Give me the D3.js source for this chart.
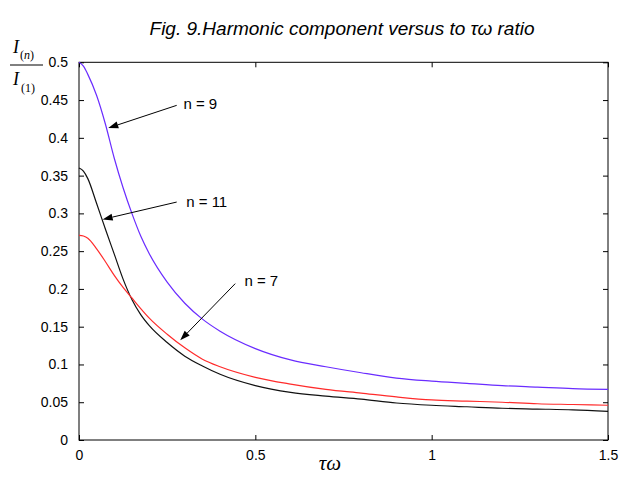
<!DOCTYPE html>
<html><head><meta charset="utf-8">
<script src="https://cdn.jsdelivr.net/npm/d3@7"></script>
<style>body{margin:0;background:#fff}svg{display:block}</style>
</head><body>
<svg id="c" width="619" height="477"></svg>
<script>
const xs    = [0,0.0125,0.025,0.05,0.075,0.1,0.125,0.15,0.175,0.2,0.25,0.3,0.35,0.4,0.5,0.6,0.7,0.8,0.9,1.0,1.1,1.2,1.3,1.4,1.5];
const n9    = [0.500,0.495,0.484,0.456,0.418,0.373,0.334,0.300,0.270,0.246,0.209,0.181,0.160,0.144,0.121,0.106,0.097,0.089,0.082,0.078,0.075,0.072,0.070,0.068,0.067];
const n7    = [0.271,0.270,0.267,0.253,0.236,0.218,0.202,0.188,0.174,0.161,0.140,0.122,0.107,0.097,0.083,0.074,0.067,0.062,0.057,0.053,0.0515,0.050,0.048,0.047,0.046];
const n11   = [0.360,0.356,0.346,0.313,0.279,0.246,0.213,0.186,0.166,0.151,0.129,0.111,0.098,0.087,0.072,0.063,0.058,0.054,0.049,0.046,0.044,0.042,0.041,0.040,0.038];
const xTicks = [0,0.5,1,1.5];
const yTicks = [0,0.05,0.1,0.15,0.2,0.25,0.3,0.35,0.4,0.45,0.5];
// annotations: [label, arrow head x, head y, tail x, tail y, label x, label y] in data units
const notes = [
  ["n = 9", 0.083, 0.413, 0.277, 0.443, 0.296, 0.438],
  ["n = 11",0.067, 0.292, 0.277, 0.315, 0.304, 0.309],
  ["n = 7", 0.287, 0.132, 0.443, 0.207, 0.469, 0.204]
];

const svg = d3.select("#c");
const L=79,R=608,T=62.3,B=440;
const x = d3.scaleLinear().domain([0,1.5]).range([L,R]);
const y = d3.scaleLinear().domain([0,0.5]).range([B,T]);

// title
svg.append("text").attr("x",342).attr("y",35).attr("text-anchor","middle")
  .attr("font-family","Liberation Sans, Arial, sans-serif").attr("font-style","italic")
  .attr("font-size",19).text("Fig. 9.Harmonic component versus to τω ratio");

const tickFont = "Liberation Sans, Arial, sans-serif";
// axes
const gx = svg.append("g").attr("transform",`translate(0,${B})`)
  .call(d3.axisBottom(x).tickValues(xTicks).tickFormat(d3.format("")).tickSizeInner(-5).tickSizeOuter(0).tickPadding(10));
const gxt = svg.append("g").attr("transform",`translate(0,${T})`)
  .call(d3.axisTop(x).tickValues(xTicks).tickFormat("").tickSizeInner(-5).tickSizeOuter(0));
const gy = svg.append("g").attr("transform",`translate(${L},0)`)
  .call(d3.axisLeft(y).tickValues(yTicks).tickFormat(d3.format("")).tickSizeInner(-5).tickSizeOuter(0).tickPadding(11));
const gyr = svg.append("g").attr("transform",`translate(${R},0)`)
  .call(d3.axisRight(y).tickValues(yTicks).tickFormat("").tickSizeInner(-5).tickSizeOuter(0));
[gx,gxt,gy,gyr].forEach(g=>{
  g.select(".domain").remove();
  g.selectAll("line").attr("stroke","#000");
  g.selectAll("text").attr("font-family",tickFont).attr("font-size",14).attr("fill","#000");
});
svg.append("rect").attr("x",L).attr("y",T).attr("width",R-L).attr("height",B-T)
  .attr("fill","none").attr("stroke","#000").attr("stroke-width",1);

// lines
const line = d3.line().x((d,i)=>x(xs[i])).y(d=>y(d)).curve(d3.curveMonotoneX);
[[n9,"#6a2cff"],[n11,"#111"],[n7,"#ff2b2b"]].forEach(([s,c])=>{
  svg.append("path").attr("d",line(s)).attr("fill","none").attr("stroke",c).attr("stroke-width",1.2);
});

// annotations
notes.forEach(([lab,hx,hy,tx,ty,lx,ly])=>{
  const X1=x(tx),Y1=y(ty),X2=x(hx),Y2=y(hy);
  const ang=Math.atan2(Y2-Y1,X2-X1), len=10, w=3.5;
  const bx=X2-len*Math.cos(ang), by=Y2-len*Math.sin(ang);
  svg.append("line").attr("x1",X1).attr("y1",Y1).attr("x2",bx).attr("y2",by).attr("stroke","#000").attr("stroke-width",1);
  const p=[[X2,Y2],[bx+w*Math.sin(ang),by-w*Math.cos(ang)],[bx-w*Math.sin(ang),by+w*Math.cos(ang)]];
  svg.append("path").attr("d","M"+p.map(q=>q.join(",")).join("L")+"Z").attr("fill","#000");
  svg.append("text").attr("x",x(lx)).attr("y",y(ly)).attr("font-family",tickFont).attr("font-size",15).text(lab);
});

// x label
svg.append("text").attr("x",330).attr("y",470).attr("text-anchor","middle")
  .attr("font-family","Liberation Serif, Times New Roman, serif").attr("font-style","italic")
  .attr("font-size",21).text("τω");

// y label fraction
const yl = svg.append("g").attr("font-family","Liberation Serif, Times New Roman, serif");
yl.append("text").attr("x",13).attr("y",53).attr("font-style","italic").attr("font-size",18).text("I");
yl.append("text").attr("x",20).attr("y",59).attr("font-size",12).html('(<tspan font-style="italic">n</tspan>)');
yl.append("line").attr("x1",10).attr("x2",43).attr("y1",65).attr("y2",65).attr("stroke","#000").attr("stroke-width",1);
yl.append("text").attr("x",13).attr("y",85).attr("font-style","italic").attr("font-size",18).text("I");
yl.append("text").attr("x",21).attr("y",92).attr("font-size",12).text("(1)");
</script>
</body></html>
